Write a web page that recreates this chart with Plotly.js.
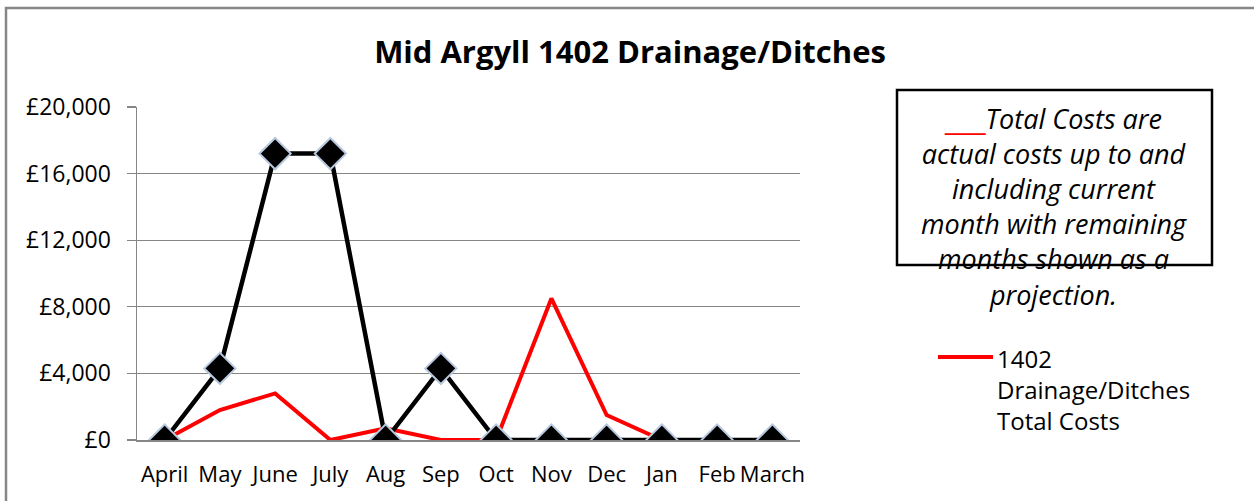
<!DOCTYPE html>
<html>
<head>
<meta charset="utf-8">
<script src="https://cdn.plot.ly/plotly-3.0.1.min.js"></script>
<style>
html,body{margin:0;padding:0;background:#fff;}
#chart{width:1254px;height:501px;}
</style>
</head>
<body>
<div id="chart"></div>
<script>
const months = ["April","May","June","July","Aug","Sep","Oct","Nov","Dec","Jan","Feb","March"];
const budgetProfile = [0, 4300, 17200, 17200, 0, 4300, 0, 0, 0, 0, 0, 0];
const totalCosts = [0, 1800, 2800, 0, 700, 0, 0, 8500, 1500, 0, null, null];
const yTickVals = [0, 4000, 8000, 12000, 16000, 20000];
const yTickText = ["£0","£4,000","£8,000","£12,000","£16,000","£20,000"];
const titleText = "Mid Argyll 1402 Drainage/Ditches";
const seriesName = "1402<br>Drainage/Ditches<br>Total Costs";
const noteText = "<span style='color:#ff0000;font-family:DejaVu Sans'>___</span>Total Costs are<br>actual costs up to and<br>including current<br>month with remaining<br>months shown as a<br>projection.";

const FONT = "'Open Sans', Lato, sans-serif";

// plot area in pixels: x 137..800, y 107..440
const PX = x => (x - 137) / 663;
const PY = y => (440 - y) / 333;

const traces = [
  {
    x: months, y: totalCosts, type: "scatter", mode: "lines",
    name: seriesName, showlegend: false,
    line: {color: "#ff0000", width: 4},
    hoverinfo: "skip"
  },
  {
    x: months, y: budgetProfile, type: "scatter", mode: "lines+markers",
    name: "Profile", showlegend: false,
    line: {color: "#000000", width: 4.5},
    marker: {symbol: "diamond", size: 24, color: "#000000", line: {color: "#b8c8de", width: 2}},
    hoverinfo: "skip"
  }
];

const layout = {
  width: 1254, height: 501,
  margin: {l: 137, r: 454, t: 107, b: 61, pad: 0},
  paper_bgcolor: "#ffffff",
  plot_bgcolor: "#ffffff",
  font: {family: FONT, size: 22, color: "#000"},
  showlegend: false,
  title: {
    text: "<b>" + titleText + "</b>",
    font: {family: FONT, size: 31, color: "#000"},
    x: 630/1254, xanchor: "center", xref: "container",
    y: 1 - 52/501, yanchor: "middle", yref: "container"
  },
  xaxis: {
    type: "category",
    range: [-0.5, 11.5],
    showgrid: false,
    showline: true, linecolor: "#868686", linewidth: 1.5,
    ticks: "", ticklabelstandoff: 14,
    tickfont: {family: FONT, size: 22, color: "#000"},
    fixedrange: true, zeroline: false
  },
  yaxis: {
    range: [0, 20000],
    tickvals: yTickVals, ticktext: yTickText,
    showgrid: true, gridcolor: "#868686", gridwidth: 1.2,
    showline: true, linecolor: "#868686", linewidth: 1.5,
    ticks: "outside", ticklen: 9, tickcolor: "#868686", tickwidth: 1.2,
    ticklabelstandoff: 11,
    tickfont: {family: FONT, size: 23, color: "#000"},
    zeroline: false, fixedrange: true
  },
  shapes: [
    {type: "rect", xref: "paper", yref: "paper",
     x0: PX(6), x1: PX(1275), y0: PY(520), y1: PY(8),
     line: {color: "#868686", width: 2.5}, fillcolor: "rgba(0,0,0,0)", layer: "below"},
    {type: "rect", xref: "paper", yref: "paper",
     x0: PX(897), x1: PX(1212), y0: PY(265), y1: PY(90),
     line: {color: "#000000", width: 2.5}, fillcolor: "rgba(0,0,0,0)"},
    // legend key for the Total Costs series
    {type: "line", xref: "paper", yref: "paper",
     x0: PX(938), x1: PX(993), y0: PY(357), y1: PY(357),
     line: {color: "#ff0000", width: 4}}
  ],
  annotations: [
    {xref: "paper", yref: "paper",
     x: PX(1054), y: PY(98), xanchor: "center", yanchor: "top",
     text: "<i>" + noteText + "</i>", showarrow: false, align: "center",
     font: {family: FONT, size: 27, color: "#000"}},
    {xref: "paper", yref: "paper",
     x: PX(995), y: PY(340), xanchor: "left", yanchor: "top",
     text: seriesName, showarrow: false, align: "left",
     font: {family: FONT, size: 24, color: "#000"}}
  ]
};

Plotly.newPlot("chart", traces, layout, {displayModeBar: false, staticPlot: true});
</script>
</body>
</html>
